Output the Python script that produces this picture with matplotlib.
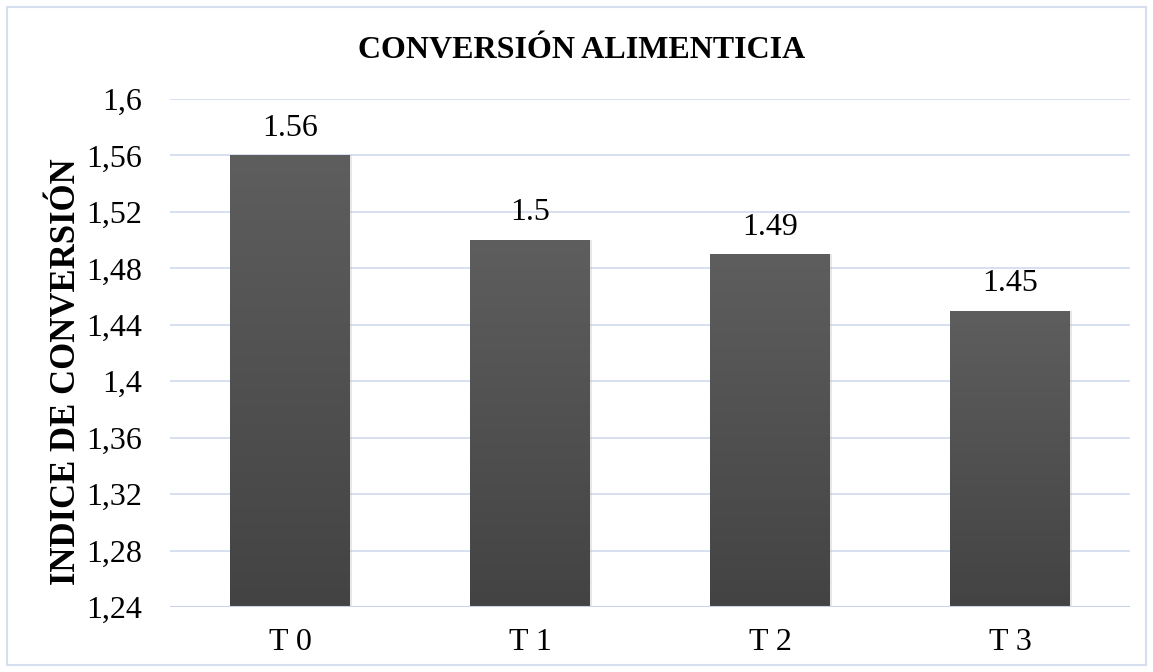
import matplotlib.pyplot as plt
import numpy as np
from matplotlib.patches import Rectangle
from matplotlib.colors import LinearSegmentedColormap

categories = ['T 0', 'T 1', 'T 2', 'T 3']
values = [1.56, 1.50, 1.49, 1.45]
value_labels = ['1.56', '1.5', '1.49', '1.45']
yticks = [1.24, 1.28, 1.32, 1.36, 1.40, 1.44, 1.48, 1.52, 1.56, 1.60]
ytick_labels = ['1,24', '1,28', '1,32', '1,36', '1,4', '1,44', '1,48', '1,52', '1,56', '1,6']

plt.rcParams['font.family'] = ['Liberation Serif', 'DejaVu Serif']

fig = plt.figure(figsize=(11.53, 6.72), dpi=100)
ax = fig.add_axes([170/1153, 1 - 607/672, 960/1153, 508/672])

# light frame around the whole chart
fig.patches.append(Rectangle((7/1153, 7/672), 1139/1153, 658/672, transform=fig.transFigure,
                             fill=False, edgecolor='#d6dff0', linewidth=1.5))

x = np.arange(len(categories))
bars = ax.bar(x, values, width=0.5, bottom=0, color='none', zorder=3)
ymin, ymax = 1.24, 1.60
grad = np.linspace(0, 1, 256).reshape(-1, 1)
cmap = LinearSegmentedColormap.from_list('g', ['#434343', '#5e5e5e'])
for b in bars:
    x0 = b.get_x()
    w = b.get_width()
    h = b.get_height()
    im = ax.imshow(grad, extent=[x0, x0 + w, ymin, h], origin='lower', aspect='auto',
                   cmap=cmap, zorder=3)
    im.set_clip_path(Rectangle((x0, ymin), w, h - ymin, transform=ax.transData))
    # soft shadow
    ax.add_patch(Rectangle((x0 + 0.008, ymin), w, h - ymin, facecolor='#bbbbbb', alpha=0.35,
                           edgecolor='none', zorder=2))

for xi, v, lab in zip(x, values, value_labels):
    ax.text(xi, v + 0.009, lab, ha='center', va='bottom', fontsize=23)

ax.set_xlim(-0.5, len(categories) - 0.5)
ax.set_ylim(ymin, ymax)
ax.set_yticks(yticks)
ax.set_yticklabels(ytick_labels, fontsize=23)
ax.set_xticks(x)
ax.set_xticklabels(categories, fontsize=23)
ax.tick_params(axis='x', length=0, pad=15)
ax.tick_params(axis='y', length=0, pad=20)
ax.grid(axis='y', color='#d3dcef', linewidth=1.3, zorder=0)
for s in ax.spines.values():
    s.set_visible(False)
ax.axhline(ymin, color='#c9d3e6', linewidth=1.5, zorder=4)

fig.text(67/1153, 1 - 372/672, 'INDICE DE CONVERSIÓN', rotation=90, ha='center', va='center',
         fontsize=25, fontweight='bold')
fig.text(582/1153, 1 - 51/672, 'CONVERSIÓN ALIMENTICIA', ha='center', va='center',
         fontsize=23, fontweight='bold')

fig.savefig('out.png', dpi=100)
